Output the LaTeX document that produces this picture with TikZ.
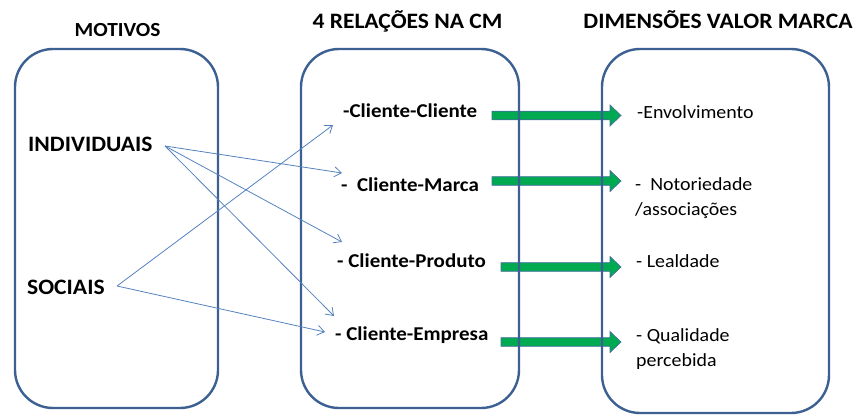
\documentclass[tikz,border=0pt]{standalone}
\usepackage{fontspec}
\setmainfont{Carlito}[FakeStretch=1.07]
\usetikzlibrary{arrows.meta,calc}
\definecolor{boxblue}{RGB}{60,96,146}
\definecolor{thinblue}{RGB}{85,130,190}
\definecolor{arrgreen}{RGB}{0,170,80}
\definecolor{arrborder}{RGB}{70,110,160}
\newcommand\greenarrow[2]{%
  \filldraw[fill=arrgreen,draw=arrborder,line width=0.7]
    ($(#1)+(0,-4.3)$) -- ($(#2)+(-11,-4.3)$) -- ($(#2)+(-11,-10.5)$) -- (#2)
    -- ($(#2)+(-11,10.5)$) -- ($(#2)+(-11,4.3)$) -- ($(#1)+(0,4.3)$) -- cycle;}
\begin{document}
\begin{tikzpicture}[x=1pt,y=-1pt,
  box/.style={draw=boxblue,line width=2.4,rounded corners=38},
  title/.style={anchor=base,inner sep=0,font=\fontsize{22}{26}\selectfont\bfseries},
  motive/.style={anchor=base west,inner sep=0,font=\fontsize{22}{26}\selectfont\bfseries},
  rel/.style={anchor=base west,inner sep=0,font=\fontsize{19.6}{24}\selectfont\bfseries},
  dim/.style={anchor=base west,inner sep=0,font=\fontsize{18.6}{25}\selectfont,align=left},
  thin/.style={draw=thinblue,line width=0.8,-{Straight Barb[length=7,width=10]}}]
\useasboundingbox (0,0) rectangle (859,415);
% green arrows (below boxes)
\coordinate (g1s) at (492,115.5); \coordinate (g1e) at (621,115.5);
\coordinate (g2s) at (492,181);   \coordinate (g2e) at (621,181);
\coordinate (g3s) at (501,267);   \coordinate (g3e) at (621,267);
\coordinate (g4s) at (501,342);   \coordinate (g4e) at (621,342);
\greenarrow{g1s}{g1e}
\greenarrow{g2s}{g2e}
\greenarrow{g3s}{g3e}
\greenarrow{g4s}{g4e}
% boxes
\draw[box] (15,49) rectangle (218,408);
\draw[box] (301,49) rectangle (519,408);
\draw[box] (602,49) rectangle (829,413);
% titles
\node[title,font=\fontsize{20}{24}\selectfont\bfseries] (t1) at (117.5,36) {MOTIVOS};
\node[title] (t2) at (407.5,28.3) {4 RELAÇÕES NA CM};
\node[title] (t3) at (718,28.3) {DIMENSÕES VALOR MARCA};
% motives
\node[motive] (ind) at (28,151.7) {INDIVIDUAIS};
\node[motive] (soc) at (27,294) {SOCIAIS};
% relations
\node[rel] (r1) at (343,117) {-Cliente-Cliente};
\node[rel] (r2) at (341,191) {-\ \ Cliente-Marca};
\node[rel] (r3) at (337,267) {- Cliente-Produto};
\node[rel] (r4) at (335,340) {- Cliente-Empresa};
% dimensions
\node[dim] (d1) at (637,118) {-Envolvimento};
\node[dim] (d2) at (635,215) {-\ \ Notoriedade\\/associações};
\node[dim] (d3) at (636,267) {- Lealdade};
\node[dim] (d4) at (636,366) {- Qualidade\\percebida};
% thin arrows
\coordinate (iS) at (165,146);
\coordinate (sS) at (117,286);
\coordinate (r1in) at (333,125);
\coordinate (r2in) at (342,173);
\coordinate (r3in) at (342,242);
\coordinate (r4a) at (334,316);
\coordinate (r4b) at (325,332);
\draw[thin] (iS) -- (r2in);
\draw[thin] (iS) -- (r3in);
\draw[thin] (iS) -- (r4a);
\draw[thin] (sS) -- (r1in);
\draw[thin] (sS) -- (r4b);
\end{tikzpicture}
\end{document}
